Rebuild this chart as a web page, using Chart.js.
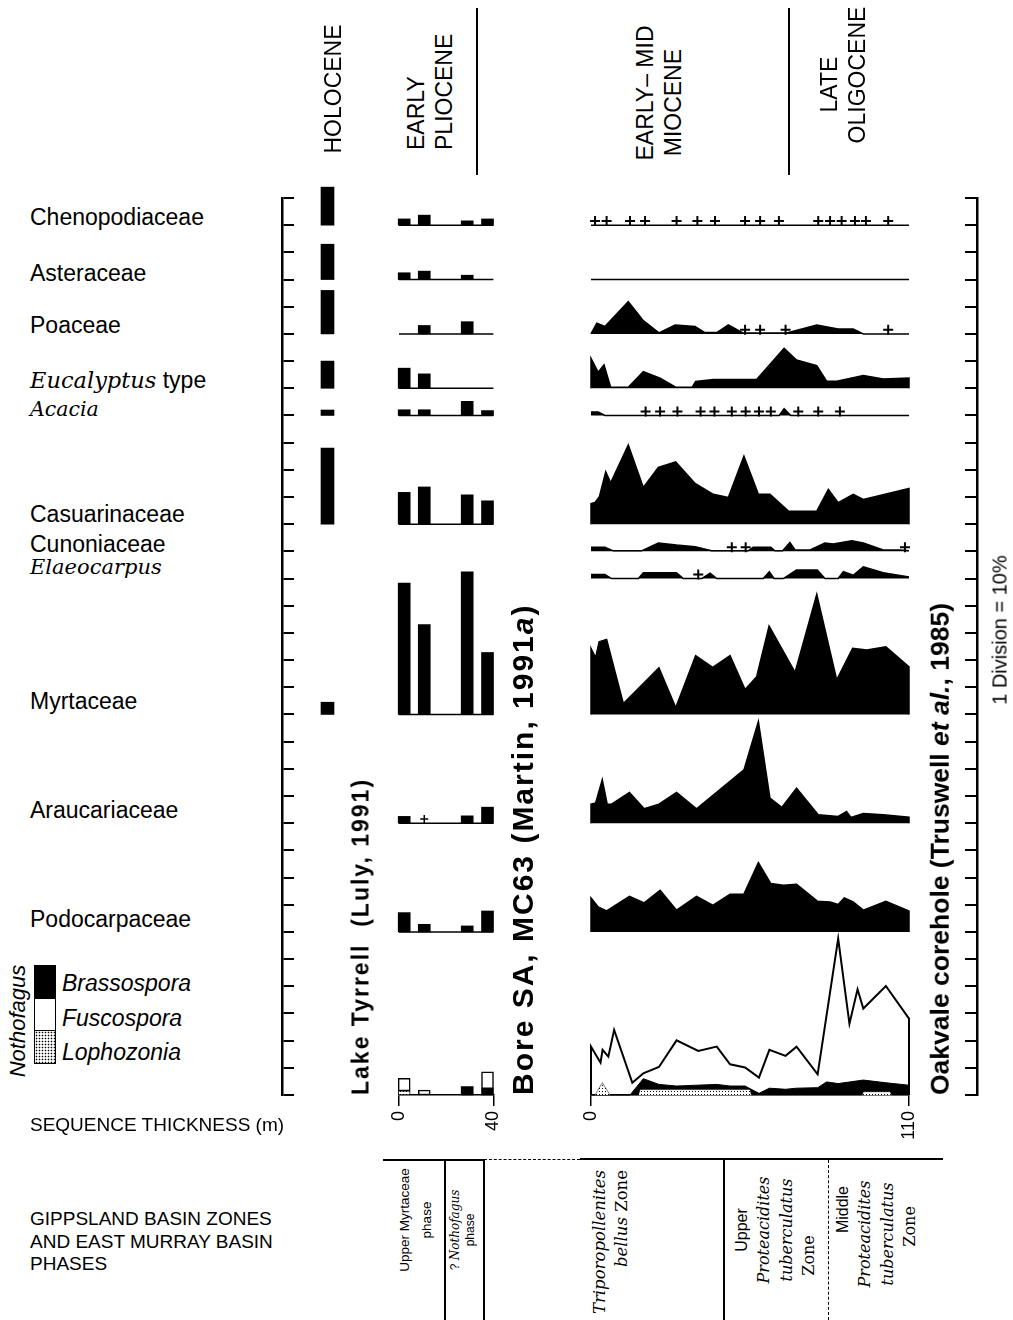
<!DOCTYPE html>
<html>
<head>
<meta charset="utf-8">
<script src="https://cdn.jsdelivr.net/npm/chart.js@4.4.0/dist/chart.umd.min.js"></script>
<style>
body { margin:0; background:#fff; }
#page { position:relative; width:1013px; height:1320px; overflow:hidden; font-family:"Liberation Sans", Arial, Helvetica, sans-serif; color:#000; }
canvas { position:absolute; }
.t { position:absolute; white-space:nowrap; line-height:1; }
.lab { font-size:23px; transform:translateY(-50%); }
.it { font-family:"DejaVu Serif", serif; font-style:italic; }
/* rotated text, centred on left/top */
.vc { position:absolute; white-space:nowrap; line-height:1.15; text-align:center; transform:translate(-50%,-50%) rotate(-90deg); }
/* rotated text starting at left/top and running upward */
.vs { position:absolute; white-space:nowrap; line-height:1; transform-origin:0 50%; transform:translateY(-50%) rotate(-90deg); }
/* rotated text ending at left/top */
.ve { position:absolute; white-space:nowrap; line-height:1; transform-origin:100% 50%; transform:translate(-100%,-50%) rotate(-90deg); }
.hd { font-size:23px; line-height:28px; }
.ln { position:absolute; background:#000; }
.dh { position:absolute; border-top:1.5px dashed #000; height:0; }
.dv { position:absolute; border-left:1.5px dashed #000; width:0; }
.box { position:absolute; left:34px; width:22px; border:1.5px solid #000; box-sizing:border-box; }
</style>
</head>
<body>
<div id="page">

<canvas id="rulerL" width="60" height="980" style="left:250px;top:170px"></canvas>
<canvas id="holo" width="55" height="980" style="left:300px;top:170px"></canvas>
<canvas id="plio" width="150" height="980" style="left:370px;top:170px"></canvas>
<canvas id="oak" width="380" height="980" style="left:560px;top:170px"></canvas>
<canvas id="rulerR" width="60" height="980" style="left:940px;top:170px"></canvas>

<!-- header -->
<div class="vc hd" style="left:333px;top:89px">HOLOCENE</div>
<div class="vs hd" style="left:430px;top:150px;text-align:left">EARLY<br>PLIOCENE</div>
<div class="ln" style="left:476px;top:8px;width:1.5px;height:167px"></div>
<div class="vc hd" style="left:659px;top:93px">EARLY– MID<br>MIOCENE&nbsp;&nbsp;&nbsp;</div>
<div class="ln" style="left:788px;top:8px;width:1.5px;height:167px"></div>
<div class="vc hd" style="left:843px;top:75px">LATE&nbsp;&nbsp;&nbsp;<br>OLIGOCENE</div>

<!-- taxon labels -->
<div class="t lab" style="left:30px;top:217px">Chenopodiaceae</div>
<div class="t lab" style="left:30px;top:273px">Asteraceae</div>
<div class="t lab" style="left:30px;top:325px">Poaceae</div>
<div class="t lab" style="left:30px;top:380px"><span class="it" style="font-size:22.5px">Eucalyptus</span> type</div>
<div class="t lab it" style="left:30px;top:409px;font-size:20.5px">Acacia</div>
<div class="t lab" style="left:30px;top:514px">Casuarinaceae</div>
<div class="t lab" style="left:30px;top:544px">Cunoniaceae</div>
<div class="t lab it" style="left:30px;top:567px;font-size:21px">Elaeocarpus</div>
<div class="t lab" style="left:30px;top:701px">Myrtaceae</div>
<div class="t lab" style="left:30px;top:810px">Araucariaceae</div>
<div class="t lab" style="left:30px;top:919px">Podocarpaceae</div>

<!-- legend -->
<div class="vc" style="left:18px;top:1021px;font-size:22px;font-style:italic">Nothofagus</div>
<div class="box" style="top:965px;height:34px;background:#000"></div>
<div class="box" style="top:998px;height:33px;background:#fff"></div>
<div class="box" style="top:1030px;height:34px;background:radial-gradient(circle,#000 0.7px,#fff 1.1px) 0 0/3px 3px"></div>
<div class="t lab" style="left:62px;top:983px;font-style:italic">Brassospora</div>
<div class="t lab" style="left:62px;top:1018px;font-style:italic">Fuscospora</div>
<div class="t lab" style="left:62px;top:1052px;font-style:italic">Lophozonia</div>

<div class="t" style="left:30px;top:1115px;font-size:19px">SEQUENCE THICKNESS (m)</div>
<div class="t" style="left:30px;top:1208px;font-size:19px;line-height:22.5px">GIPPSLAND BASIN ZONES<br>AND EAST MURRAY BASIN<br>PHASES</div>

<!-- site titles -->
<div class="vs" style="left:361px;top:1095px;font-size:23px;font-weight:bold;letter-spacing:2px">Lake Tyrrell&nbsp; (Luly, 1991)</div>
<div class="vs" style="left:523px;top:1095px;font-size:30px;font-weight:bold;letter-spacing:2px">Bore SA, MC63 (Martin, 1991<i>a</i>)</div>
<div class="vs" style="left:940px;top:1095px;font-size:26.5px;font-weight:bold">Oakvale corehole (Truswell <i>et al.</i>, 1985)</div>
<div class="vc" style="left:1000px;top:630px;font-size:20px">1 Division = 10%</div>

<!-- zone table -->
<div class="ln" style="left:383px;top:1159px;width:101px;height:1.5px"></div>
<div class="dh" style="left:484px;top:1159px;width:96px"></div>
<div class="ln" style="left:580px;top:1158px;width:363px;height:2px"></div>
<div class="ln" style="left:444px;top:1159px;width:1.5px;height:161px"></div>
<div class="ln" style="left:483px;top:1159px;width:1.5px;height:161px"></div>
<div class="ln" style="left:723px;top:1159px;width:2px;height:161px"></div>
<div class="dv" style="left:828px;top:1160px;height:160px"></div>

<div class="vc" style="left:416px;top:1220px;font-size:13.5px;line-height:22px">Upper Myrtaceae<br>phase</div>
<div class="vc" style="left:463px;top:1230px;font-size:12px;line-height:15px">? <span class="it">Nothofagus</span><br>phase</div>
<div class="ve it" style="left:600px;top:1170px;font-size:16.5px">Triporopollenites</div>
<div class="ve it" style="left:622px;top:1170px;font-size:16.5px"><i>bellus</i> <span style="font-style:normal">Zone</span></div>
<div class="vc" style="left:776px;top:1230px;font-size:16px;line-height:1.4"><span style="font-family:'Liberation Sans',Arial,sans-serif">Upper</span><br><span class="it">Proteacidites</span><br><span class="it">tuberculatus</span><br><span style="font-family:'DejaVu Serif',serif">Zone&nbsp;&nbsp;&nbsp;&nbsp;&nbsp;&nbsp;&nbsp;&nbsp;&nbsp;&nbsp;</span></div>
<div class="vc" style="left:877px;top:1234px;font-size:16px;line-height:1.4"><span style="font-family:'Liberation Sans',Arial,sans-serif">&nbsp;&nbsp;&nbsp;&nbsp;&nbsp;&nbsp;&nbsp;&nbsp;&nbsp;&nbsp;&nbsp;Middle</span><br><span class="it">Proteacidites</span><br><span class="it">tuberculatus</span><br><span style="font-family:'DejaVu Serif',serif">&nbsp;&nbsp;&nbsp;Zone</span></div>

</div>
<script>
// taxa, top to bottom
const taxa = ['Chenopodiaceae', 'Asteraceae', 'Poaceae', 'Eucalyptus type', 'Acacia', 'Casuarinaceae',
  'Cunoniaceae', 'Elaeocarpus', 'Myrtaceae', 'Araucariaceae', 'Podocarpaceae', 'Nothofagus'];
// row baseline of each taxon, in scale divisions (1 division = 10 %)
const rowBase = [32, 30, 28, 26, 25, 21, 20, 19, 14, 10, 6, 0];
const divisions = 33;

// Holocene - Lake Tyrrell (%)
const holocene = [14, 13, 16, 10, 2, 28, 0, 0, 4.5, 0, 0, 0];

// Early Pliocene - Bore SA, MC63 : depth (m) and % per sample
const plioDepth = [2.2, 10.7, 28.9, 37.5];
const plioCheno = [2.3, 3.7, 1.6, 2.3];
const plioAster = [2.5, 3.1, 1.6, 0];
const plioPoa = [0, 3.1, 4.5, 0];
const plioEuc = [7.4, 5.3, 0, 0];
const plioAcacia = [2.1, 2.1, 5.2, 1.8];
const plioCas = [11.7, 13.7, 10.8, 8.6];
const plioMyrt = [48.3, 33.1, 52.5, 22.8];
const plioArauc = [2.5, 0, 2.7, 5.9];
const plioPodo = [7.1, 2.8, 2.2, 7.7];
const plioBrasso = [0, 0, 3.1, 2.3];
const plioFusco = [4.6, 1.8, 0, 6.2];
const plioLopho = [1.5, 0, 0, 0];
const plioAraucPlus = [10.7];

// Oakvale corehole : [depth m, %]
const oakCheno = [[0, 0], [110, 0]];
const oakAster = [[0, 0], [110, 0]];
const oakPoa = [[0, 0], [2.0, 3.9], [4.8, 2.7], [12.9, 11.9], [18.1, 4.9], [23.5, 0.4], [29.1, 3.3], [36.0, 2.7],
  [39.4, 0.5], [43.5, 0.5], [47.5, 3.3], [52.7, 0.3], [67.7, 0.3], [78.1, 3.3], [85.5, 1.8], [90.7, 1.8], [94.2, 0], [110, 0]];
const oakEuc = [[0, 0], [0, 11.0], [2.5, 5.9], [4.5, 8.6], [6.8, 0.4], [12.9, 0.4], [18.1, 6.1], [23.9, 3.7], [29.3, 0.4],
  [35.0, 0.4], [36.2, 2.5], [42.3, 3.2], [57.3, 3.2], [66.8, 14.7], [71.1, 10.4], [78.1, 8.3], [81.5, 2.6], [85.0, 2.6],
  [94.2, 4.7], [101.1, 3.4], [110, 3.8], [110, 0]];
const oakAcacia = [[0, 1.3], [2.5, 1.3], [4.8, 0], [65.1, 0], [66.8, 2.5], [69.1, 0], [110, 0]];
const oakCas = [[0, 0], [0, 7.6], [1.4, 8.0], [2.9, 10.1], [5.1, 19.3], [6.8, 15.2], [12.9, 29.1], [18.1, 13.5], [23.3, 20.9],
  [29.3, 22.9], [36.0, 15.0], [42.3, 11.0], [47.5, 9.8], [52.9, 25.0], [57.9, 11.0], [61.9, 11.0], [68.3, 4.8], [78.1, 4.8],
  [82.1, 12.8], [85.5, 7.9], [90.7, 11.0], [94.2, 9.1], [110, 13.1], [110, 0]];
const oakCuno = [[0, 1.5], [4.8, 1.5], [7.7, 0.2], [17.5, 0.2], [23.3, 3.1], [29.6, 2.3], [36.0, 1.7], [41.7, 0.2], [54.4, 0.2],
  [56.1, 1.5], [62.2, 1.5], [63.6, 0.2], [66.3, 0.2], [68.8, 3.3], [70.6, 0.5], [75.8, 0.5], [80.9, 3.1], [83.8, 2.7],
  [90.2, 3.9], [94.2, 3.1], [101.1, 0.5], [106.9, 0.5], [110, 0.2]];
const oakElaeo = [[0, 1.5], [4.8, 1.5], [7.1, 0], [16.4, 0], [18.1, 2.1], [29.6, 2.1], [31.9, 0], [38.3, 0], [41.2, 2.0],
  [43.5, 0], [59.6, 0], [61.7, 2.5], [63.3, 0], [66.5, 0], [71.1, 3.1], [78.3, 3.1], [80.9, 0], [85.5, 0], [87.3, 2.5],
  [90.7, 1.2], [94.2, 4.3], [101.1, 2.1], [110, 0.6]];
const oakMyrt = [[0, 0], [0, 24.3], [1.6, 20.9], [2.8, 26.7], [5.4, 27.6], [11.2, 4.0], [23.5, 17.2], [29.3, 2.5], [36.2, 21.6],
  [42.1, 17.3], [48.1, 21.6], [53.3, 9.2], [57.3, 13.9], [61.6, 32.5], [70.6, 15.5], [78.1, 44.2], [85.0, 12.7],
  [90.5, 24.3], [95.4, 23.7], [102.0, 24.9], [110, 17.5], [110, 0]];
const oakArauc = [[0, 0], [0, 7.0], [1.6, 7.4], [3.9, 16.0], [5.6, 7.0], [7.1, 7.0], [13.3, 11.3], [18.4, 5.3], [23.5, 7.0],
  [29.6, 11.3], [36.5, 5.3], [52.9, 19.6], [57.9, 37.4], [61.9, 9.2], [66.0, 5.8], [71.1, 12.9], [78.6, 3.1], [85.5, 2.5],
  [88.4, 4.3], [89.9, 2.1], [94.2, 3.6], [101.1, 3.1], [110, 2.2], [110, 0]];
const oakPodo = [[0, 0], [0, 12.5], [2.5, 9.2], [5.4, 7.7], [13.3, 13.1], [18.4, 10.7], [23.9, 15.3], [29.6, 8.0], [36.5, 13.1],
  [42.1, 9.8], [48.1, 13.9], [52.9, 13.9], [57.9, 25.5], [62.2, 17.8], [66.5, 17.2], [71.1, 17.5], [78.3, 11.3],
  [82.7, 11.0], [85.5, 10.1], [87.6, 12.5], [90.7, 11.0], [94.2, 8.0], [102.0, 11.3], [110, 7.7], [110, 0]];
// Nothofagus: total (Fuscospora outline), Brassospora, Lophozonia
const oakFusco = [[0, 0], [0, 17.8], [3.3, 11.9], [4.0, 16.6], [6.0, 14.1], [8.0, 23.9], [14.3, 4.5], [18.1, 8.0], [23.5, 10.3],
  [29.6, 20.1], [37.1, 16.2], [43.5, 17.8], [48.1, 11.3], [53.3, 10.1], [58.1, 6.4], [61.7, 16.6], [67.3, 14.4],
  [71.1, 17.8], [78.4, 7.6], [85.5, 57.5], [89.4, 26.2], [92.2, 38.9], [94.2, 31.8], [102.0, 40.1], [110, 28.1], [110, 0]];
const oakBrasso = [[0, 0], [13.5, 0], [18.1, 6.0], [23.5, 3.9], [29.6, 3.3], [43.5, 3.9], [48.1, 3.3], [53.3, 3.3], [58.1, 0.6],
  [61.7, 2.5], [67.3, 2.1], [71.1, 2.5], [78.4, 2.7], [81.5, 4.8], [85.5, 4.2], [94.2, 5.5], [102.0, 4.5], [110, 3.6], [110, 0]];
const oakLopho = [[0, 0], [1.4, 0], [3.9, 4.5], [6.6, 0], [16.4, 0], [17.0, 2.0], [55.0, 2.0], [55.5, 0], [93.8, 0], [94.2, 1.2],
  [103.5, 1.2], [104, 0], [110, 0]];
// depths where a taxon is present at < 1 % (+)
const chenoPlus = [1.4, 5.4, 13.5, 18.7, 29.6, 36.8, 42.9, 53.3, 58.5, 65.0, 78.6, 82.7, 86.7, 91.3, 95.1, 102.8];
const poaPlus = [53.3, 58.5, 67.3, 102.8];
const acaciaPlus = [18.9, 23.9, 29.9, 37.9, 42.7, 48.7, 53.5, 58.1, 62.2, 71.7, 78.6, 86.1];
const cunoPlus = [48.7, 53.5, 108.6];
const elaeoPlus = [37.1];

const plioRows = [plioCheno, plioAster, plioPoa, plioEuc, plioAcacia, plioCas, null, null, plioMyrt, plioArauc, plioPodo, null];
const oakRows = [oakCheno, oakAster, oakPoa, oakEuc, oakAcacia, oakCas, oakCuno, oakElaeo, oakMyrt, oakArauc, oakPodo, null];
const oakPlusRows = [chenoPlus, [], poaPlus, [], acaciaPlus, [], cunoPlus, elaeoPlus, [], [], [], []];

const FONT = '"Liberation Sans", Arial, Helvetica, sans-serif';
Chart.defaults.font.family = FONT;
Chart.defaults.color = '#000';
const plusLift = 0.15;

function baseOptions(pad) {
    return {
        responsive: false,
        animation: false,
        devicePixelRatio: 1,
        layout: { padding: pad },
        plugins: { legend: { display: false }, tooltip: { enabled: false } },
        scales: {}
    };
}
function hiddenY() {
    return { type: 'linear', display: false, min: 0, max: divisions };
}
function depthAxis(max) {
    return {
        type: 'linear', min: 0, max: max, offset: false, position: 'bottom',
        grid: { offset: false, drawOnChartArea: false, drawTicks: true, tickLength: 11, color: '#000', lineWidth: 1.5 },
        border: { display: true, color: '#000', width: 1.5 },
        ticks: { stepSize: max, autoSkip: false, minRotation: 90, maxRotation: 90, padding: 5, font: { size: 18 } },
        afterFit: function (s) { s.height = 50; }
    };
}
function toPoints(pts, base) {
    return pts.map(p => ({ x: p[0], y: base + p[1] / 10 }));
}

// rulers (ticks pointing inward)
function ruler(id, side, pad) {
    const o = baseOptions(pad);
    o.scales.x = { type: 'linear', display: false, min: 0, max: 1 };
    o.scales.y = {
        type: 'linear', min: 0, max: divisions, position: side,
        ticks: { display: false, stepSize: 1 },
        grid: { color: '#000', lineWidth: 2, drawTicks: false },
        border: { color: '#000', width: 2.5 }
    };
    return new Chart(document.getElementById(id), { type: 'line', data: { datasets: [] }, options: o });
}
ruler('rulerL', 'left', { left: 32, right: 16, top: 28, bottom: 55 });
ruler('rulerR', 'right', { left: 25, right: 23, top: 28, bottom: 55 });

// Holocene column
const holoBars = [];
holocene.forEach((v, i) => {
    if (v > 0) holoBars.push({ x: 0.5, y: [rowBase[i], rowBase[i] + v / 10] });
});
const holoOpt = baseOptions({ left: 10, right: 10, top: 28, bottom: 55 });
holoOpt.scales.x = { type: 'linear', display: false, min: 0, max: 1, offset: false, grid: { offset: false } };
holoOpt.scales.y = hiddenY();
new Chart(document.getElementById('holo'), {
    type: 'bar',
    data: { datasets: [{ label: 'Holocene', data: holoBars, backgroundColor: '#000', barThickness: 13, clip: false }] },
    options: holoOpt
});

// Early Pliocene column
const plioBlack = [], plioWhite = [], plioDots = [], plioLines = [];
plioRows.forEach((vals, i) => {
    if (!vals) return;
    const b = rowBase[i];
    vals.forEach((v, j) => { if (v > 0) plioBlack.push({ x: plioDepth[j], y: [b, b + v / 10] }); });
    plioLines.push({
        type: 'line', label: taxa[i], data: [{ x: 0, y: b }, { x: 40, y: b }],
        borderColor: '#000', borderWidth: 1.5, pointRadius: 0, clip: false
    });
});
plioDepth.forEach((d, j) => {
    const l = plioLopho[j] / 10, br = plioBrasso[j] / 10, f = plioFusco[j] / 10;
    if (l > 0) plioDots.push({ x: d, y: [0, l] });
    if (br > 0) plioBlack.push({ x: d, y: [l, l + br] });
    if (f > 0) plioWhite.push({ x: d, y: [l + br, l + br + f] });
});
const plioCtx = document.getElementById('plio').getContext('2d');
function stipple(ctx) {
    const p = document.createElement('canvas');
    p.width = 3; p.height = 3;
    const g = p.getContext('2d');
    g.fillStyle = '#fff'; g.fillRect(0, 0, 3, 3);
    g.fillStyle = '#000'; g.fillRect(0, 0, 1, 1);
    return ctx.createPattern(p, 'repeat');
}
const plioOpt = baseOptions({ left: 29, right: 25, top: 28, bottom: 5 });
plioOpt.scales.x = depthAxis(40);
plioOpt.scales.y = hiddenY();
new Chart(plioCtx, {
    type: 'bar',
    data: {
        datasets: [
            { type: 'line', label: '+', data: plioAraucPlus.map(d => ({ x: d, y: rowBase[9] + plusLift })), showLine: false,
              pointStyle: 'cross', pointRadius: 4, pointBorderWidth: 1.5, pointBorderColor: '#000', clip: false },
            { label: 'Lophozonia', data: plioDots, backgroundColor: stipple(plioCtx), borderColor: '#000', borderWidth: 1,
              borderSkipped: false, barThickness: 12, grouped: false, clip: false },
            { label: 'Fuscospora', data: plioWhite, backgroundColor: '#fff', borderColor: '#000', borderWidth: 1.5,
              borderSkipped: false, barThickness: 12, grouped: false, clip: false },
            { label: 'bars', data: plioBlack, backgroundColor: '#000', barThickness: 12, grouped: false, clip: false }
        ].concat(plioLines)
    },
    options: plioOpt
});

// Oakvale corehole
const oakCtx = document.getElementById('oak').getContext('2d');
const oakSets = [];
oakPlusRows.forEach((depths, i) => {
    if (!depths.length) return;
    oakSets.push({
        label: taxa[i] + ' +', data: depths.map(d => ({ x: d, y: rowBase[i] + plusLift })), showLine: false,
        pointStyle: 'cross', pointRadius: 5, pointBorderWidth: 2, pointBorderColor: '#000', clip: false
    });
});
oakSets.push({ label: 'Fuscospora', data: toPoints(oakFusco, 0), borderColor: '#000', borderWidth: 2,
    pointRadius: 0, fill: false, clip: false });
oakSets.push({ label: 'Lophozonia', data: toPoints(oakLopho, 0), borderColor: '#000', borderWidth: 0.5,
    backgroundColor: stipple(oakCtx), pointRadius: 0, fill: { value: 0 }, clip: false });
oakSets.push({ label: 'Brassospora', data: toPoints(oakBrasso, 0), borderColor: '#000', borderWidth: 1,
    backgroundColor: '#000', pointRadius: 0, fill: { value: 0 }, clip: false });
oakRows.forEach((pts, i) => {
    if (!pts) return;
    oakSets.push({
        label: taxa[i], data: toPoints(pts, rowBase[i]), borderColor: '#000', borderWidth: 1.5,
        backgroundColor: '#000', pointRadius: 0, fill: { value: rowBase[i] }, clip: false
    });
});
const oakOpt = baseOptions({ left: 31, right: 31, top: 28, bottom: 5 });
oakOpt.scales.x = depthAxis(110);
oakOpt.scales.y = hiddenY();
new Chart(oakCtx, { type: 'line', data: { datasets: oakSets }, options: oakOpt });
</script>
</body>
</html>
